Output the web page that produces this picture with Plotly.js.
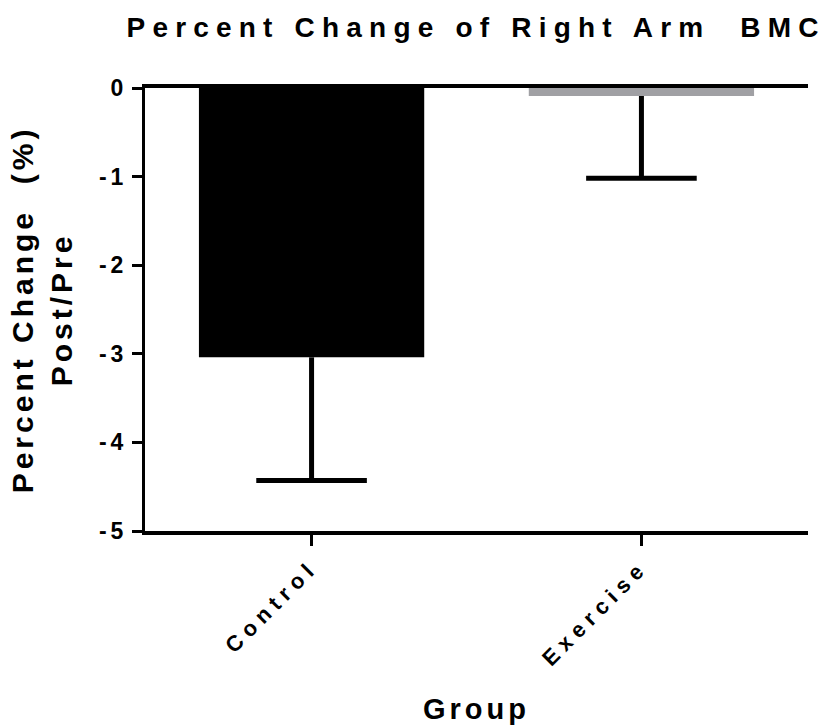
<!DOCTYPE html>
<html>
<head>
<meta charset="utf-8">
<script src="https://cdn.plot.ly/plotly-3.0.1.min.js"></script>
<style>
  html, body { margin: 0; padding: 0; background: #fff; }
  #chart { width: 823px; height: 727px; }
  /* letter spacing used throughout the figure's text */
  .gtitle { letter-spacing: 7.2px !important; }
  .xtitle { letter-spacing: 4px !important; }
  .ytitle { letter-spacing: 4px !important; }
  .xtick text { letter-spacing: 6px !important; }
  .ytick text { letter-spacing: 4px !important; }
</style>
</head>
<body>
<div id="chart"></div>
<script>
// Group means and standard errors of percent change (post/pre)
const groups = ["Control", "Exercise"];
const meanChange = [-3.04, -0.09];
const semChange = [1.39, 0.93];
const barColors = ["#000000", "#a0a0a4"];
const yTicks = [0, -1, -2, -3, -4, -5];

const FONT = "Liberation Sans, Arial, Helvetica, sans-serif";

// lower end of each error bar, where the cap sits
const errTip = meanChange.map((m, i) => m - semChange[i]);

const bars = {
  type: "bar",
  x: groups,
  y: meanChange,
  marker: { color: barColors, line: { width: 0 } },
  error_y: {
    type: "data",
    symmetric: false,
    array: groups.map(() => 0),
    arrayminus: semChange,
    color: "#000",
    thickness: 5,
    width: 0
  },
  hoverinfo: "x+y",
  showlegend: false
};

const caps = {
  type: "scatter",
  mode: "markers",
  x: groups,
  y: errTip,
  marker: { symbol: "line-ew", size: 79, line: { width: 5, color: "#000" } },
  hoverinfo: "skip",
  showlegend: false
};

const layout = {
  width: 823,
  height: 727,
  paper_bgcolor: "#fff",
  plot_bgcolor: "#fff",
  margin: { l: 145, r: 15, t: 88, b: 196 },
  bargap: 0.317,
  font: { family: FONT, color: "#000" },
  title: {
    // the final letter carries no trailing spacing so the line ends at its glyph
    text: "Percent Change of Right Arm\u00A0 BM<span style=\"letter-spacing:0px\">C</span>",
    font: { family: FONT, size: 28, weight: "bold", color: "#000" },
    x: 0.494, xref: "paper", xanchor: "center",
    y: 1 - 27 / 727, yref: "container", yanchor: "middle"
  },
  xaxis: {
    type: "category",
    range: [-0.505, 1.505],
    showline: true, linewidth: 4, linecolor: "#000",
    mirror: true,
    ticks: "outside", ticklen: 11, tickwidth: 3, tickcolor: "#000",
    tickangle: -45,
    tickfont: { family: FONT, size: 22, weight: "bold", color: "#000" },
    showgrid: false, zeroline: false,
    layer: "above traces",
    title: {
      text: "Group",
      font: { family: FONT, size: 29, weight: "bold", color: "#000" },
      standoff: 30
    }
  },
  yaxis: {
    range: [-5, 0],
    tickvals: yTicks,
    ticktext: yTicks.map(String),
    showline: true, linewidth: 3, linecolor: "#000",
    ticks: "outside", ticklen: 10, tickwidth: 3, tickcolor: "#000",
    tickfont: { family: FONT, size: 23, weight: "bold", color: "#000" },
    showgrid: false, zeroline: false,
    layer: "above traces",
    title: {
      text: "Percent Change\u00A0 (%)<br>Post/Pre",
      font: { family: FONT, size: 30, weight: "bold", color: "#000" },
      standoff: 18
    }
  }
};

Plotly.newPlot("chart", [bars, caps], layout, { displayModeBar: false, staticPlot: true });
</script>
</body>
</html>
